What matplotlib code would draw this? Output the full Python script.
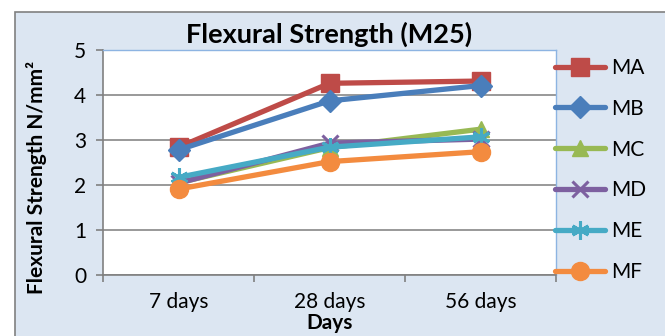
import matplotlib
matplotlib.use("Agg")
import matplotlib.pyplot as plt
from matplotlib.patches import Rectangle

categories = ["7 days", "28 days", "56 days"]
series_names = ["MA", "MB", "MC", "MD", "ME", "MF"]
ma = [2.84, 4.26, 4.31]
mb = [2.78, 3.87, 4.21]
mc = [2.05, 2.83, 3.24]
md = [2.04, 2.93, 3.02]
me = [2.17, 2.84, 3.07]
mf = [1.91, 2.52, 2.74]

colors = ["#BE4B48", "#4A7EBB", "#98B954", "#7D60A0", "#46AAC5", "#F38B3F"]
# ME uses an asterisk (three crossing strokes)
markers = ["s", "D", "^", "x", (6, 2, 0), "o"]
msizes = [13, 11, 12, 11, 13, 13]

plt.rcParams['font.family'] = ['Lato', 'DejaVu Sans']

fig = plt.figure(figsize=(6.65, 3.36), dpi=100)
fig.patch.set_facecolor("white")
W, H = 665, 336
# outer chart frame
fig.patches.append(Rectangle((15 / W, -0.05), 1.0, 1 - 12 / H + 0.05,
                             transform=fig.transFigure, facecolor="#DCE6F2",
                             edgecolor="#808080", linewidth=1.2, zorder=-10))

ax = fig.add_axes([103 / W, 1 - 275 / H, (556 - 103) / W, (275 - 50) / H])
ax.set_zorder(1)
ax.set_facecolor("white")

x = range(len(categories))
for name, vals, c, m, ms in zip(series_names, [ma, mb, mc, md, me, mf], colors, markers, msizes):
    kw = dict(markeredgewidth=2.2) if m in ("x", (6, 2, 0)) else dict(markeredgecolor=c)
    ax.plot(x, vals, color=c, linewidth=3.8, marker=m, markersize=ms,
            label=name, solid_capstyle="round", **kw)

ax.set_xlim(-0.5, 2.5)
ax.set_ylim(0, 5)
ax.set_yticks(range(0, 6))
ax.set_xticks(list(x))
ax.set_xticklabels(categories)
ax.set_xticks([-0.5, 0.5, 1.5, 2.5], minor=True)
ax.tick_params(axis="x", which="major", length=0, pad=12, labelsize=15)
ax.tick_params(axis="x", which="minor", length=5, width=1.2, color="#808080", direction="out")
ax.tick_params(axis="y", length=5, width=1.2, color="#808080", labelsize=15, pad=7)
ax.yaxis.grid(True, color="#878787", linewidth=1.2)
ax.set_axisbelow(True)
for s in ("left", "bottom"):
    ax.spines[s].set_color("#808080")
    ax.spines[s].set_linewidth(1.2)
for s in ("top", "right"):
    ax.spines[s].set_color("#8DB4E2")
    ax.spines[s].set_linewidth(1.0)

ax.set_title("Flexural Strength (M25)", fontsize=19.5, fontweight="bold", pad=5)
ax.set_xlabel("Days", fontsize=15, fontweight="bold", labelpad=1)
ax.set_ylabel("Flexural Strength N/mm²", fontsize=15, fontweight="bold")
ax.yaxis.set_label_coords(-0.124, 0.435)

leg = ax.legend(loc="upper left", bbox_to_anchor=(0.998, 0.965), frameon=False,
                fontsize=15, handlelength=2.4, handletextpad=0.3,
                labelspacing=1.0, borderaxespad=0, borderpad=0)

fig.savefig("out.png", dpi=100)
